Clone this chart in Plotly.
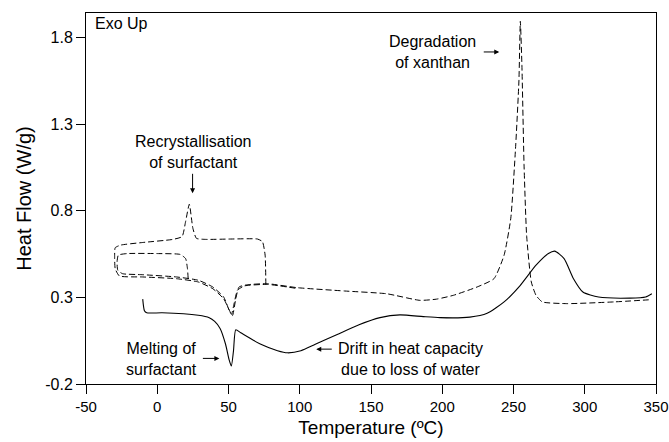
import plotly.graph_objects as go

# ---- data ----
# solid curve
solid_T = [-10.2, -9.0, -7.4, 3.4, 28.8, 36.5, 40.3, 44.1, 47.9, 50.4, 52.0, 53.5, 55.1, 58.6,
           72.7, 84.4, 91.4, 100.8, 110.9, 126.3, 141.6, 156.3, 170.3, 186.7, 198.3, 219.4,
           231.5, 243.4, 254.8, 265.8, 274.5, 278.9, 285.5, 292.1, 298.7, 309.7, 331.7, 342.7, 347.1]
solid_HF = [0.290, 0.223, 0.211, 0.211, 0.197, 0.183, 0.161, 0.121, 0.031, -0.059, -0.096, -0.008,
            0.113, 0.096, 0.029, -0.008, -0.020, -0.008, 0.029, 0.086, 0.142, 0.183, 0.199, 0.189,
            0.183, 0.186, 0.208, 0.274, 0.370, 0.486, 0.553, 0.567, 0.524, 0.408, 0.331, 0.302,
            0.296, 0.302, 0.321]

# dashed curve A (outer loop with recrystallisation, then heating to 350 C)
dashA_T = [76.2, 75.7, 73.8, 70.3, 51.6, 33.9, 27.5, 25.0, 22.5, 19.9, 17.4, 11.0, -10.2, -25.6,
           -29.5, -29.9, -29.5, -26.6, -10.2, 13.5, 28.8, 39.0, 46.6, 51.1, 52.8, 55.1, 57.4,
           63.3, 77.4, 98.4, 131.4, 161.0, 184.3, 196.0, 207.8, 224.4, 236.3, 243.4, 248.1,
           251.5, 253.8, 254.8, 255.9, 257.4, 259.2, 262.5, 265.8, 270.2, 287.7, 320.7, 344.9]
dashA_HF = [0.373, 0.544, 0.622, 0.637, 0.637, 0.635, 0.641, 0.699, 0.838, 0.738, 0.651, 0.635,
            0.617, 0.602, 0.587, 0.544, 0.466, 0.424, 0.418, 0.408, 0.389, 0.350, 0.292, 0.217,
            0.195, 0.292, 0.360, 0.373, 0.379, 0.356, 0.337, 0.321, 0.283, 0.290, 0.312, 0.360,
            0.408, 0.544, 0.757, 1.171, 1.550, 1.894, 1.640, 1.066, 0.660, 0.389, 0.312, 0.274,
            0.264, 0.274, 0.286]

# dashed curve B (inner loop)
dashB_T = [21.7, 21.2, 19.9, 16.1, 0.8, -21.2, -27.3, -28.2, -27.7, -24.4, -10.2, 13.5, 28.8,
           39.0, 46.6, 50.4, 52.1, 53.9, 56.3, 61.0, 77.4, 98.4]
dashB_HF = [0.408, 0.466, 0.524, 0.548, 0.553, 0.553, 0.544, 0.505, 0.457, 0.437, 0.431, 0.418,
            0.399, 0.360, 0.302, 0.227, 0.202, 0.264, 0.341, 0.366, 0.375, 0.351]

x_ticks = [-50, 0, 50, 100, 150, 200, 250, 300, 350]
x_ticktext = ["-50", "0", "50", "100", "150", "200", "250", "300", "350"]
y_ticks = [-0.2, 0.3, 0.8, 1.3, 1.8]
y_ticktext = ["-0.2", "0.3", "0.8", "1.3", "1.8"]

FONT = "Arial, 'Liberation Sans', sans-serif"
INK = "#000000"

fig = go.Figure()
fig.add_trace(go.Scatter(x=solid_T, y=solid_HF, mode="lines",
                         line=dict(color=INK, width=1.1, shape="spline", smoothing=0.6),
                         showlegend=False, hoverinfo="skip"))
fig.add_trace(go.Scatter(x=dashA_T, y=dashA_HF, mode="lines",
                         line=dict(color=INK, width=1.0, dash="6px,3px", shape="spline", smoothing=0.5),
                         showlegend=False, hoverinfo="skip"))
fig.add_trace(go.Scatter(x=dashB_T, y=dashB_HF, mode="lines",
                         line=dict(color=INK, width=1.0, dash="6px,3px", shape="spline", smoothing=0.5),
                         showlegend=False, hoverinfo="skip"))

ann_font = dict(family=FONT, size=16, color=INK)
annotations = [
    dict(text="Exo Up", xref="paper", yref="paper", x=0.012, y=0.972,
         xanchor="left", yanchor="middle", showarrow=False, font=ann_font),
    dict(text="Recrystallisation<br>of surfactant", xref="paper", yref="paper", x=0.187, y=0.625,
         xanchor="center", yanchor="middle", showarrow=False, font=ann_font, align="center"),
    dict(text="", xref="paper", yref="paper", x=0.187, y=0.514, ax=0, ay=-21,
         showarrow=True, arrowhead=2, arrowsize=1, arrowwidth=1, arrowcolor=INK),
    dict(text="Degradation<br>of xanthan", xref="paper", yref="paper", x=0.608, y=0.894,
         xanchor="center", yanchor="middle", showarrow=False, font=ann_font, align="center"),
    dict(text="", xref="paper", yref="paper", x=0.725, y=0.895, ax=-17, ay=0,
         showarrow=True, arrowhead=2, arrowsize=1, arrowwidth=1, arrowcolor=INK),
    dict(text="Melting of<br>surfactant", xref="paper", yref="paper", x=0.133, y=0.067,
         xanchor="center", yanchor="middle", showarrow=False, font=ann_font, align="center"),
    dict(text="", xref="paper", yref="paper", x=0.234, y=0.069, ax=-18, ay=0,
         showarrow=True, arrowhead=2, arrowsize=1, arrowwidth=1, arrowcolor=INK),
    dict(text="Drift in heat capacity<br>due to loss of water", xref="paper", yref="paper",
         x=0.570, y=0.067, xanchor="center", yanchor="middle", showarrow=False,
         font=ann_font, align="center"),
    dict(text="", xref="paper", yref="paper", x=0.404, y=0.094, ax=17, ay=0,
         showarrow=True, arrowhead=2, arrowsize=1, arrowwidth=1, arrowcolor=INK),
]

fig.update_layout(
    width=669, height=442,
    margin=dict(l=86, r=13, t=13, b=58, autoexpand=False),
    paper_bgcolor="white", plot_bgcolor="white",
    font=dict(family=FONT, size=15, color=INK),
    annotations=annotations,
    showlegend=False,
)
fig.update_xaxes(range=[-50, 350], tickvals=x_ticks, ticktext=x_ticktext,
                 showgrid=False, zeroline=False, showline=True, linecolor=INK, linewidth=1,
                 mirror=True, ticks="outside", ticklen=9, tickcolor=INK, tickwidth=1,
                 tickfont=dict(size=15), ticklabeloverflow="allow", automargin=False,
                 title=dict(text="Temperature (ºC)", font=dict(size=19), standoff=6))
fig.update_yaxes(range=[-0.2, 1.942], tickvals=y_ticks, ticktext=y_ticktext,
                 showgrid=False, zeroline=False, showline=True, linecolor=INK, linewidth=1,
                 mirror=True, ticks="outside", ticklen=9, tickcolor=INK, tickwidth=1,
                 tickfont=dict(size=16), ticklabeloverflow="allow", automargin=False,
                 title=dict(text="Heat Flow (W/g)", font=dict(size=20), standoff=8))

fig.write_html("out.html")
